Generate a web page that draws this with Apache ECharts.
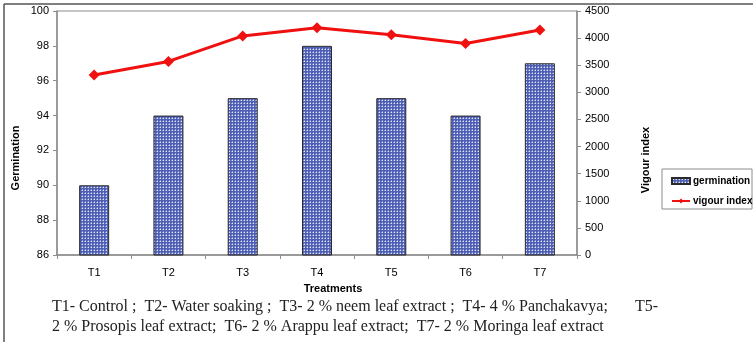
<!DOCTYPE html>
<html>
<head>
<meta charset="utf-8">
<script src="https://cdn.jsdelivr.net/npm/echarts@6/dist/echarts.min.js"></script>
<style>
  html, body { margin: 0; padding: 0; background: #ffffff; }
  #chart { width: 753px; height: 342px; }
</style>
</head>
<body>
<div id="chart"></div>
<script>
// Treatments and measured values
const categories = ['T1', 'T2', 'T3', 'T4', 'T5', 'T6', 'T7'];
const germination = [90, 94, 95, 98, 95, 94, 97];
const vigourIndex = [3320, 3570, 4040, 4190, 4060, 3900, 4150];
const germinationTicks = [86, 88, 90, 92, 94, 96, 98, 100];
const vigourTicks = [0, 500, 1000, 1500, 2000, 2500, 3000, 3500, 4000, 4500];

// Dotted fill for the germination bars: light dots on a blue ground
function dotPattern() {
  const c = document.createElement('canvas');
  c.width = 3; c.height = 3;
  const ctx = c.getContext('2d');
  ctx.fillStyle = '#4e5fb4';
  ctx.fillRect(0, 0, 3, 3);
  ctx.fillStyle = '#dfe3f7';
  ctx.fillRect(1, 1, 1, 1);
  ctx.fillStyle = '#8d99d6';
  ctx.fillRect(0, 1, 1, 1);
  ctx.fillRect(1, 0, 1, 1);
  return c;
}

const chart = echarts.init(document.getElementById('chart'), null, { renderer: 'canvas' });
const axisGray = '#8c8c8c';
const sans = 'Liberation Sans, Arial, sans-serif';
const serif = 'Liberation Serif, Times New Roman, serif';

chart.setOption({
  animation: false,
  backgroundColor: '#ffffff',
  grid: { left: 57, right: 176, top: 11, bottom: 87, show: true, borderColor: axisGray, borderWidth: 1 },
  legend: {
    orient: 'vertical',
    left: 671, top: 176,
    padding: 0,
    itemGap: 10,
    itemWidth: 18, itemHeight: 6,
    textStyle: { fontFamily: sans, fontSize: 10, fontWeight: 'bold', color: '#000', padding: [0, 0, 0, -2] },
    data: [
      { name: 'germination', icon: 'rect' },
      { name: 'vigour index' }
    ]
  },
  xAxis: {
    type: 'category',
    data: categories,
    axisLine: { lineStyle: { color: axisGray, width: 1.5 } },
    axisTick: { show: true, length: 4, lineStyle: { color: axisGray } },
    axisLabel: { fontFamily: sans, fontSize: 11, color: '#000', margin: 12 }
  },
  yAxis: [
    {
      type: 'value',
      min: germinationTicks[0],
      max: germinationTicks[germinationTicks.length - 1],
      interval: 2,
      axisLine: { show: true, lineStyle: { color: axisGray, width: 1.5 } },
      axisTick: { show: true, length: 4, lineStyle: { color: axisGray } },
      axisLabel: { fontFamily: sans, fontSize: 11, color: '#000', margin: 8 },
      splitLine: { show: false }
    },
    {
      type: 'value',
      min: vigourTicks[0],
      max: vigourTicks[vigourTicks.length - 1],
      interval: 500,
      position: 'right',
      axisLine: { show: true, lineStyle: { color: axisGray, width: 1.5 } },
      axisTick: { show: true, length: 4, lineStyle: { color: axisGray } },
      axisLabel: { fontFamily: sans, fontSize: 11, color: '#000', margin: 8, formatter: v => String(v) },
      splitLine: { show: false }
    }
  ],
  series: [
    {
      name: 'germination',
      type: 'bar',
      yAxisIndex: 0,
      data: germination,
      barWidth: 30,
      itemStyle: {
        color: { image: dotPattern(), repeat: 'repeat' },
        borderColor: '#2a2a2a',
        borderWidth: 1
      }
    },
    {
      name: 'vigour index',
      type: 'line',
      yAxisIndex: 1,
      data: vigourIndex,
      symbol: 'diamond',
      symbolSize: 11,
      lineStyle: { color: '#f01010', width: 3 },
      itemStyle: { color: '#f01010' }
    }
  ],
  graphic: [
    // outer frame (left and top edges)
    { type: 'line', shape: { x1: 4, y1: 4, x2: 4, y2: 342 }, style: { stroke: '#555', lineWidth: 1.5 } },
    { type: 'line', shape: { x1: 4, y1: 4, x2: 753, y2: 4 }, style: { stroke: '#555', lineWidth: 1.5 } },
    // legend box
    { type: 'rect', shape: { x: 662, y: 169, width: 90, height: 40 }, style: { fill: 'none', stroke: '#8c8c8c', lineWidth: 1 } },
    // axis titles
    { type: 'text', x: 16, y: 158, rotation: Math.PI / 2, style: { text: 'Germination', font: 'bold 11px ' + sans, fill: '#000', align: 'center', verticalAlign: 'middle' } },
    { type: 'text', x: 646, y: 160, rotation: Math.PI / 2, style: { text: 'Vigour index', font: 'bold 11px ' + sans, fill: '#000', align: 'center', verticalAlign: 'middle' } },
    { type: 'text', x: 333, y: 289, style: { text: 'Treatments', font: 'bold 11px ' + sans, fill: '#000', align: 'center', verticalAlign: 'middle' } },
    // treatment key
    { type: 'text', x: 52, y: 307, style: { text: 'T1- Control ;  T2- Water soaking ;  T3- 2 % neem leaf extract ;  T4- 4 % Panchakavya;', font: '16px ' + serif, fill: '#222', verticalAlign: 'middle' } },
    { type: 'text', x: 635, y: 307, style: { text: 'T5-', font: '16px ' + serif, fill: '#222', verticalAlign: 'middle' } },
    { type: 'text', x: 52, y: 327, style: { text: '2 % Prosopis leaf extract;  T6- 2 % Arappu leaf extract;  T7- 2 % Moringa leaf extract', font: '16px ' + serif, fill: '#222', verticalAlign: 'middle' } }
  ]
});
</script>
</body>
</html>
